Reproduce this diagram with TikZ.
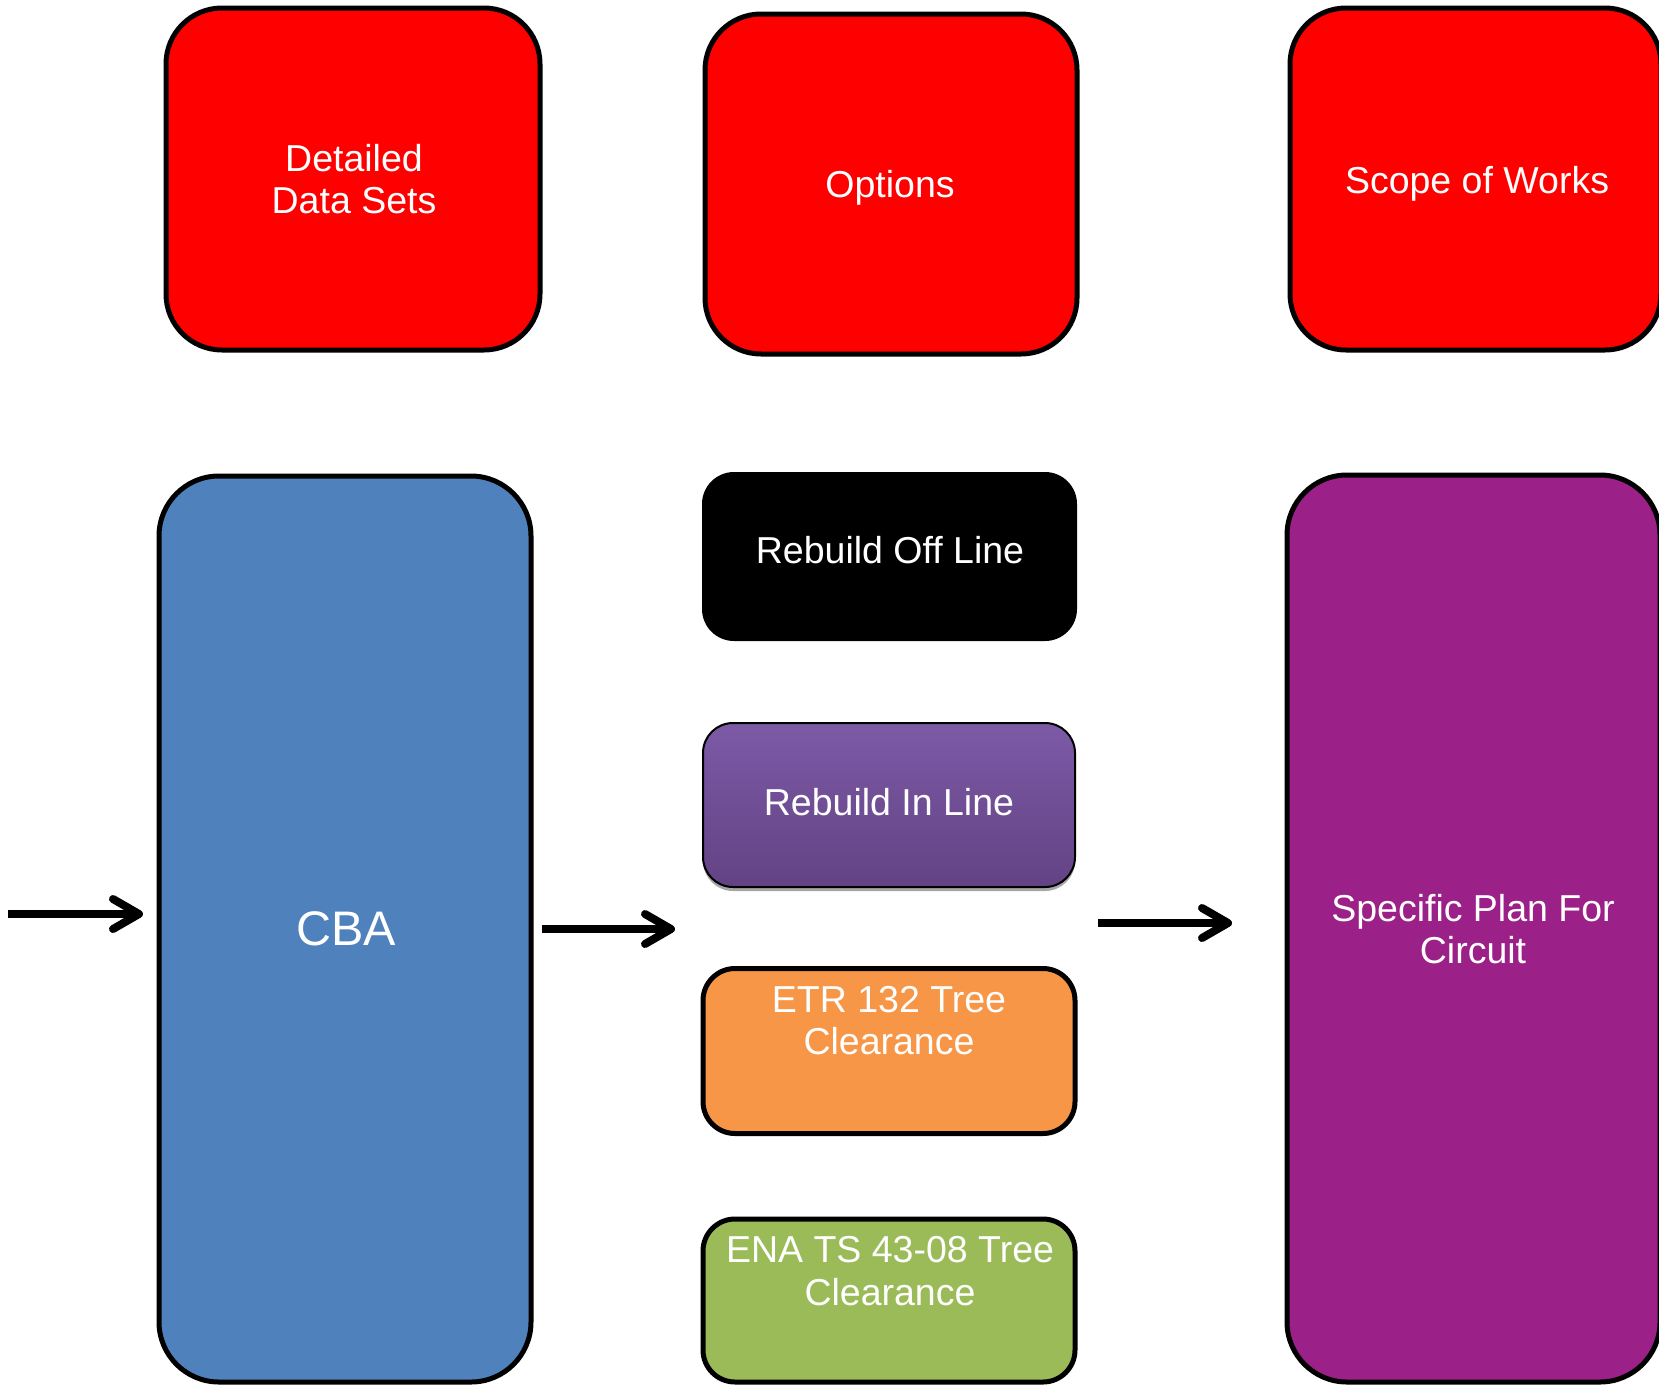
\documentclass[tikz,border=0pt]{standalone}
\usepackage{fontspec}
\setmainfont{Liberation Sans}
\usetikzlibrary{arrows.meta}
\definecolor{cred}{HTML}{FF0000}
\definecolor{cblue}{HTML}{4F81BD}
\definecolor{corange}{HTML}{F79646}
\definecolor{cgreen}{HTML}{9BBB59}
\definecolor{cpurple}{HTML}{9B2087}
\definecolor{cviotop}{HTML}{7D5AA6}
\definecolor{cviobot}{HTML}{634284}
\tikzset{
  bigbox/.style={draw=black, line width=5pt, rounded corners=56pt, inner sep=0pt, outer sep=0pt},
  smallbox/.style={draw=black, line width=5pt, rounded corners=32pt, inner sep=0pt, outer sep=0pt},
  label/.style={text=white, inner sep=0pt, align=center, font=\fontsize{37.5}{42}\selectfont},
  conn/.style={line width=8pt, -{Straight Barb[length=26pt,width=30pt,round]}}
}
\begin{document}
\begin{tikzpicture}[x=1pt,y=-1pt]
\useasboundingbox (0,0) rectangle (1659,1387);
\clip (0,0) rectangle (1659,1387);
% top row
\node[bigbox, fill=cred, minimum width=374pt, minimum height=342pt] (det) at (353,179) {};
\node[bigbox, fill=cred, minimum width=372pt, minimum height=340pt] (opt) at (891,184) {};
\node[bigbox, fill=cred, minimum width=371pt, minimum height=342pt] (sow) at (1475.5,179) {};
\node[label] (dett) at (354,179) {Detailed\\Data Sets};
\node[label, anchor=base] (optt) at (890,197) {Options};
\node[label, anchor=base] (sowt) at (1477,193) {Scope of Works};
% big columns
\node[bigbox, rounded corners=60pt, fill=cblue, minimum width=372pt, minimum height=906pt] (cba) at (345,929) {};
\node[label, anchor=base, font=\fontsize{48.5}{54}\selectfont] (cbat) at (346,945) {CBA};
\node[bigbox, rounded corners=60pt, fill=cpurple, minimum width=373pt, minimum height=907pt] (spc) at (1473.5,928.5) {};
\node[label] (spct) at (1473,929) {Specific Plan For\\Circuit};
% options column
\node[draw=none, fill=black, rounded corners=32pt, inner sep=0pt, outer sep=0pt, minimum width=375pt, minimum height=169pt] (off) at (889.5,556.5) {};
\node[label, anchor=base] (offt) at (890,563) {Rebuild Off Line};
\node[draw=none, fill=black!35, rounded corners=30pt, inner sep=0pt, minimum width=372pt, minimum height=164pt] (inlsh) at (889,809) {};
\node[draw=black, line width=2pt, rounded corners=30pt, top color=cviotop, bottom color=cviobot, inner sep=0pt, minimum width=372pt, minimum height=164pt] (inl) at (889,805) {};
\node[label, anchor=base] (inlt) at (889,815) {Rebuild In Line};
\node[smallbox, fill=corange, minimum width=372pt, minimum height=165pt] (etr) at (889,1051) {};
\node[label] (etrt) at (889,1021) {ETR 132 Tree\\Clearance};
\node[smallbox, fill=cgreen, minimum width=372pt, minimum height=163pt] (ena) at (889,1300.5) {};
\node[label, font=\fontsize{37.5}{43}\selectfont] (enat) at (890,1271.5) {ENA TS 43-08 Tree\\Clearance};
% arrows
\coordinate (a1s) at (8,914);
\coordinate (a1e) at (143,914);
\coordinate (a2s) at (542,929);
\coordinate (a2e) at (675,929);
\coordinate (a3s) at (1098,923);
\coordinate (a3e) at (1232,923);
\draw[conn] (a1s) -- (a1e);
\draw[conn] (a2s) -- (a2e);
\draw[conn] (a3s) -- (a3e);
\end{tikzpicture}
\end{document}
